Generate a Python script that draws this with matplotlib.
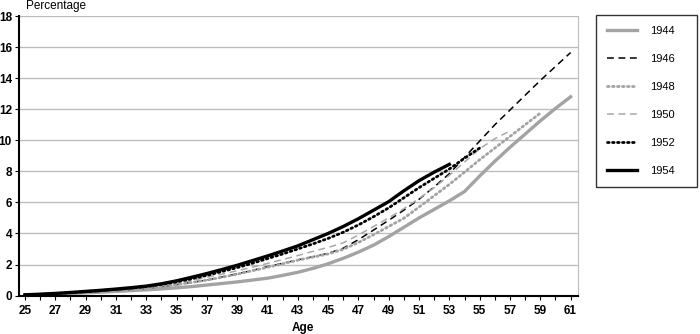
import matplotlib
matplotlib.use("Agg")
import matplotlib.pyplot as plt
import numpy as np

plt.rcParams['font.family'] = ['Liberation Sans', 'DejaVu Sans']

# cumulative percentage by age, one series per birth cohort
ages = list(range(25, 62))

pct_1944 = [0.03, 0.06, 0.10, 0.14, 0.18, 0.22, 0.27, 0.32, 0.37, 0.43,
            0.50, 0.58, 0.68, 0.78, 0.88, 1.00, 1.12, 1.30, 1.50, 1.75,
            2.05, 2.40, 2.80, 3.25, 3.80, 4.40, 5.00, 5.55, 6.10, 6.70,
            7.70, 8.65, 9.55, 10.40, 11.25, 12.05, 12.80]
pct_1946 = [0.04, 0.07, 0.11, 0.16, 0.21, 0.26, 0.32, 0.39, 0.47, 0.58,
            0.70, 0.85, 1.00, 1.20, 1.40, 1.62, 1.86, 2.08, 2.30, 2.50,
            2.72, 3.05, 3.60, 4.22, 4.85, 5.50, 6.20, 7.00, 7.85, 8.90,
            9.95, 11.00, 11.95, 12.90, 13.85, 14.75, 15.65]
pct_1948 = [0.04, 0.07, 0.11, 0.16, 0.21, 0.26, 0.32, 0.39, 0.47, 0.58,
            0.70, 0.85, 1.00, 1.18, 1.38, 1.60, 1.82, 2.05, 2.28, 2.48,
            2.68, 2.98, 3.42, 3.92, 4.45, 4.98, 5.70, 6.43, 7.16, 7.95,
            8.75, 9.50, 10.25, 11.00, 11.75]
pct_1950 = [0.04, 0.08, 0.12, 0.17, 0.23, 0.29, 0.36, 0.44, 0.53, 0.65,
            0.78, 0.98, 1.18, 1.38, 1.60, 1.83, 2.07, 2.32, 2.58, 2.85,
            3.10, 3.40, 3.90, 4.45, 5.00, 5.60, 6.25, 6.95, 7.75, 8.60,
            9.45, 10.10, 10.60]
pct_1952 = [0.05, 0.08, 0.13, 0.19, 0.25, 0.32, 0.40, 0.48, 0.58, 0.72,
            0.88, 1.08, 1.30, 1.55, 1.80, 2.08, 2.38, 2.68, 3.00, 3.33,
            3.68, 4.08, 4.55, 5.08, 5.65, 6.30, 6.95, 7.55, 8.15, 8.85,
            9.50]
pct_1954 = [0.05, 0.09, 0.14, 0.20, 0.27, 0.34, 0.42, 0.51, 0.61, 0.76,
            0.95, 1.18, 1.42, 1.68, 1.95, 2.25, 2.55, 2.87, 3.20, 3.60,
            4.00, 4.45, 4.95, 5.50, 6.05, 6.75, 7.40, 7.95, 8.45]

cohorts = ['1944', '1946', '1948', '1950', '1952', '1954']
series = [pct_1944, pct_1946, pct_1948, pct_1950, pct_1952, pct_1954]
styles = [
    dict(color='#a3a3a3', lw=2.4, ls='-'),
    dict(color='black', lw=1.1, ls=(0, (4.5, 3))),
    dict(color='#a3a3a3', lw=2.0, ls=(0, (0.6, 1.2)), dash_capstyle='round'),
    dict(color='#a8a8a8', lw=1.1, ls=(0, (4.5, 3))),
    dict(color='black', lw=2.0, ls=(0, (0.6, 1.2)), dash_capstyle='round'),
    dict(color='black', lw=2.4, ls='-'),
]

fig = plt.figure(figsize=(7.0, 3.34), dpi=100)
ax = fig.add_axes([0.027, 0.115, 0.799, 0.837])

for name, vals, st in zip(cohorts, series, styles):
    ax.plot(ages[:len(vals)], vals, label=name, **st)

ax.set_xlim(24.6, 61.5)
ax.set_ylim(0, 18)
ax.set_xticks(range(25, 62))
ax.set_xticklabels([str(a) if (a - 25) % 2 == 0 else '' for a in range(25, 62)])
ax.set_yticks(range(0, 19, 2))
ax.yaxis.grid(True, color='#bdbdbd', lw=1.0)
ax.set_axisbelow(True)

for lab in ax.get_xticklabels() + ax.get_yticklabels():
    lab.set_fontweight('bold')
ax.tick_params(axis='both', labelsize=8.5, length=3, width=0.8, pad=2)
ax.tick_params(axis='x', pad=4)

ax.spines['top'].set_visible(False)
ax.spines['right'].set_color('#bdbdbd')
ax.spines['left'].set_linewidth(1.5)
ax.spines['bottom'].set_linewidth(1.5)

fig.text(26 / 700, 1 - 6 / 334, 'Percentage', fontsize=8.5, va='center', ha='left')
fig.text(303 / 700, 1 - 328 / 334, 'Age', fontsize=8.5, fontweight='bold',
         va='center', ha='center')

leg = fig.legend(loc='upper left', bbox_to_anchor=(596 / 700, 1 - 15 / 334, 101 / 700, 0.0),
                 mode='expand', fontsize=8, frameon=True, fancybox=False,
                 edgecolor='black', handlelength=2.7, handletextpad=1.2,
                 labelspacing=1.63, borderpad=0.95, borderaxespad=0)
leg.get_frame().set_linewidth(1.0)

fig.savefig('out.png', dpi=100)
